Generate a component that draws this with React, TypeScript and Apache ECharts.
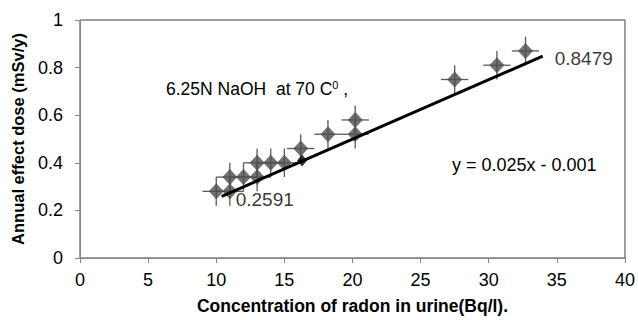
import React, { useEffect, useRef } from "react";
import * as echarts from "echarts";

const xValues = [10, 11, 11, 12, 13, 13, 14, 15, 16.2, 18.2, 20.2, 20.2, 27.5, 30.6, 32.7];
const yValues = [0.28, 0.28, 0.34, 0.34, 0.34, 0.4, 0.4, 0.4, 0.46, 0.52, 0.52, 0.58, 0.75, 0.81, 0.87];
const xError = 1.0;
const yError = 0.06;
const meanPoint = [16.3, 0.41];
const trendX = [10.4, 33.96];
const trendY = [0.2591, 0.8479];
const equationText = "y = 0.025x - 0.001";
const conditionText = "6.25N NaOH  at 70 C";
const xTitle = "Concentration of radon in urine(Bq/l).";
const yTitle = "Annual effect dose (mSv/y)";

const FONT = "'Liberation Sans', Arial, sans-serif";

export default function App() {
  const ref = useRef<HTMLDivElement>(null);
  useEffect(() => {
    if (!ref.current) return;
    const chart = echarts.init(ref.current, null, { renderer: "svg" });
    const points = xValues.map((x, i) => [x, yValues[i]]);
    const labelStyle = { fontSize: 19, color: "#000", fontFamily: FONT };
    const option: any = {
      animation: false,
      backgroundColor: "#ffffff",
      textStyle: { fontFamily: FONT },
      grid: {
        left: 80,
        right: 12,
        top: 20,
        bottom: 60,
        show: true,
        borderColor: "#404040",
        borderWidth: 1,
      },
      xAxis: {
        type: "value",
        min: 0,
        max: 40,
        interval: 5,
        splitLine: { show: false },
        axisLine: { show: true, onZero: false, lineStyle: { color: "#868686", width: 1 } },
        axisTick: { show: true, length: 5, lineStyle: { color: "#868686" } },
        axisLabel: { color: "#000", fontSize: 18, margin: 13, fontFamily: FONT },
        name: xTitle,
        nameLocation: "middle",
        nameGap: 39,
        nameTextStyle: { color: "#000", fontSize: 17.5, fontWeight: "bold", fontFamily: FONT },
      },
      yAxis: {
        type: "value",
        min: 0,
        max: 1,
        interval: 0.2,
        splitLine: { show: false },
        axisLine: { show: true, onZero: false, lineStyle: { color: "#868686", width: 1 } },
        axisTick: { show: true, length: 5, lineStyle: { color: "#868686" } },
        axisLabel: {
          color: "#000",
          fontSize: 18,
          margin: 17,
          fontFamily: FONT,
          formatter: (v: number) => String(Math.round(v * 10) / 10),
        },
        name: yTitle,
        nameLocation: "middle",
        nameRotate: 90,
        nameGap: 54,
        nameTextStyle: { color: "#000", fontSize: 16.5, fontWeight: "bold", fontFamily: FONT },
      },
      series: [
        {
          type: "custom",
          z: 1,
          data: points,
          renderItem: (params: any, api: any) => {
            const x = api.value(0);
            const y = api.value(1);
            const l = api.coord([x - xError, y]);
            const r = api.coord([x + xError, y]);
            const t = api.coord([x, y + yError]);
            const b = api.coord([x, y - yError]);
            const style = { stroke: "#595959", lineWidth: 1.3 };
            return {
              type: "group",
              children: [
                { type: "line", shape: { x1: l[0], y1: l[1], x2: r[0], y2: r[1] }, style },
                { type: "line", shape: { x1: t[0], y1: t[1], x2: b[0], y2: b[1] }, style },
              ],
            };
          },
        },
        {
          type: "scatter",
          z: 2,
          symbol: "diamond",
          symbolSize: [15, 16],
          itemStyle: { color: "#4d4d4d" },
          data: points,
        },
        {
          type: "line",
          z: 3,
          symbol: "none",
          lineStyle: { color: "#000", width: 3 },
          data: [
            [trendX[0], trendY[0]],
            [trendX[1], trendY[1]],
          ],
        },
        {
          type: "scatter",
          z: 5,
          symbolSize: 0,
          silent: true,
          data: [
            {
              value: [trendX[0], trendY[0]],
              label: {
                show: true,
                position: "right",
                distance: 14,
                offset: [0, 3],
                formatter: String(trendY[0]),
                ...labelStyle,
              },
            },
            {
              value: [trendX[1], trendY[1]],
              label: {
                show: true,
                position: "right",
                distance: 12,
                offset: [0, 2],
                formatter: String(trendY[1]),
                ...labelStyle,
              },
            },
          ],
        },
        {
          type: "scatter",
          z: 4,
          symbol: "diamond",
          symbolSize: [10, 12],
          itemStyle: { color: "#000" },
          data: [meanPoint],
        },
      ],
      graphic: [
        {
          type: "text",
          left: 166,
          top: 79,
          style: {
            text: "{a|" + conditionText + "}{s|0}{a| ,}",
            rich: {
              a: { fontSize: 17.5, fontFamily: FONT, fill: "#000", verticalAlign: "bottom" },
              s: { fontSize: 11, fontFamily: FONT, fill: "#000", verticalAlign: "top", padding: [0, 0, 8, 0] },
            },
          },
        },
        {
          type: "text",
          left: 452,
          top: 156,
          style: { text: equationText, fontSize: 18, fontFamily: FONT, fill: "#000" },
        },
      ],
    };
    chart.setOption(option);
    return () => chart.dispose();
  }, []);
  return (
    <div
      ref={ref}
      style={{ position: "absolute", left: 0, top: 0, width: 638, height: 320 }}
    />
  );
}
